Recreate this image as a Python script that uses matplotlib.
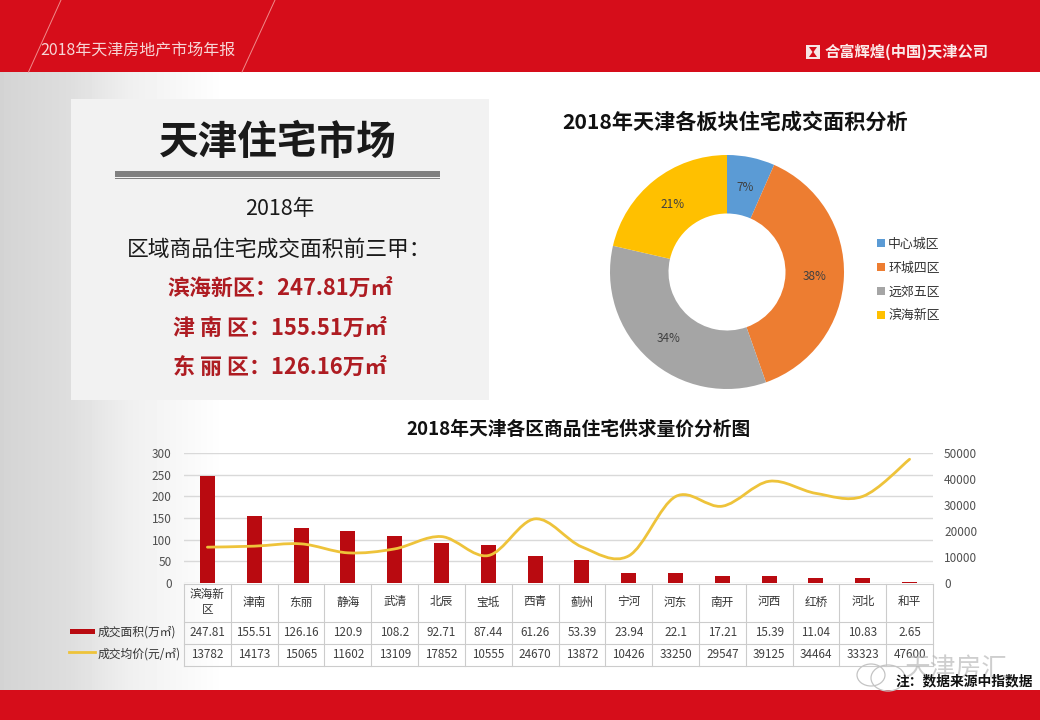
#!/usr/bin/env python3

import numpy as np
import matplotlib
matplotlib.use('Agg')
import matplotlib.pyplot as plt
from matplotlib.patches import Rectangle, Ellipse, PathPatch
from matplotlib.path import Path

plt.rcParams['font.family'] = ['Noto Sans CJK SC', 'DejaVu Sans']

# donut data
blocks = ['中心城区', '环城四区', '远郊五区', '滨海新区']
block_share = [6.6, 38, 34, 21.4]
block_colors = ['#5b9bd5', '#ed7d31', '#a5a5a5', '#ffc000']

# district data
districts = ['滨海新\n区', '津南', '东丽', '静海', '武清', '北辰', '宝坻', '西青',
             '蓟州', '宁河', '河东', '南开', '河西', '红桥', '河北', '和平']
area_labels = ['247.81', '155.51', '126.16', '120.9', '108.2', '92.71', '87.44', '61.26',
               '53.39', '23.94', '22.1', '17.21', '15.39', '11.04', '10.83', '2.65']
price = [13782, 14173, 15065, 11602, 13109, 17852, 10555, 24670,
         13872, 10426, 33250, 29547, 39125, 34464, 33323, 47600]
area = [float(a) for a in area_labels]

# left panel text
top_three = ['滨海新区：247.81万㎡', '津 南 区：155.51万㎡', '东 丽 区：126.16万㎡']

W, H = 1040, 720
RED = '#d60d1a'
BAR_RED = '#b90a10'
LINE_YELLOW = '#eec33a'
GRID = '#d9d9d9'
TABLE_LINE = '#cccccc'


def px_box(x0, y0, x1, y1):
    # pixel box (y down) to figure fractions
    return [x0 / W, 1 - y1 / H, (x1 - x0) / W, (y1 - y0) / H]


fig = plt.figure(figsize=(W / 100, H / 100), dpi=100)

# page background, everything here is in pixels
page = fig.add_axes([0, 0, 1, 1], zorder=0)
page.set_xlim(0, W)
page.set_ylim(H, 0)
page.axis('off')

# grey fade on the left of the slide
grad = np.interp(np.arange(225), [0, 70, 130, 225], [0.83, 0.87, 0.94, 1.0]).reshape(1, -1)
page.imshow(grad, extent=(0, 225, 690, 72), cmap='gray', vmin=0, vmax=1, aspect='auto', zorder=0)
page.set_xlim(0, W)
page.set_ylim(H, 0)

page.add_patch(Rectangle((0, 0), W, 72, color=RED, lw=0, zorder=1))
page.add_patch(Rectangle((0, 690), W, 30, color=RED, lw=0, zorder=1))
page.plot([28.5, 61], [72, 0], color='#f08a8a', lw=0.7, zorder=2)
page.plot([242, 275], [72, 0], color='#f08a8a', lw=0.7, zorder=2)
page.text(40, 51, '2018年天津房地产市场年报', color='#f6d5d5', fontsize=11.5, va='center', zorder=3)

# company mark
page.add_patch(Rectangle((806, 45), 14, 14, color='#f7e6e6', lw=0, zorder=3))
page.add_patch(PathPatch(Path([(809, 47), (817, 47), (813.5, 52), (817, 57), (809, 57), (812.5, 52), (809, 47)]),
                         color=RED, lw=0, zorder=4))
page.text(825, 52, '合富辉煌(中国)天津公司', color='#fbeaea', fontsize=11, fontweight='bold', va='center', zorder=3)

# left panel
page.add_patch(Rectangle((71, 99), 418, 301, color='#f2f2f2', lw=0, zorder=1))
page.text(278, 143, '天津住宅市场', color='#1a1a1a', fontsize=28.5, fontweight='bold', ha='center', va='center', zorder=3)
page.add_patch(Rectangle((115, 171), 325, 5.5, color='#808080', lw=0, zorder=3))
page.add_patch(Rectangle((115, 177.5), 325, 1, color='#808080', lw=0, zorder=3))
page.text(280, 209, '2018年', color='#1a1a1a', fontsize=15.5, ha='center', va='center', zorder=3)
page.text(279, 250, '区域商品住宅成交面积前三甲：', color='#1a1a1a', fontsize=15.7, ha='center', va='center', zorder=3)
for row_y, row_x, line in zip([288, 328, 367], [280, 280, 280], top_three):
    page.text(row_x, row_y, line, color='#ae1c22', fontsize=15.8, fontweight='bold',
              ha='center', va='center', zorder=3)

# donut
page.text(735, 122, '2018年天津各板块住宅成交面积分析', color='#111111', fontsize=15.2, fontweight='bold',
          ha='center', va='center', zorder=3)
ax_pie = fig.add_axes(px_box(610, 155, 844, 389), zorder=2)
wedges, _, pct = ax_pie.pie(block_share, colors=block_colors, startangle=90, counterclock=False, radius=1,
                            autopct='%.0f%%', pctdistance=0.75,
                            wedgeprops=dict(width=0.5),
                            textprops=dict(fontsize=8.5, color='#404040'))
for t in pct:
    t_x, t_y = t.get_position()
    t.set_position((t_x, t_y - 0.012))
ax_pie.set_xlim(-1, 1)
ax_pie.set_ylim(-1, 1)
fig.legend(wedges, blocks, loc='center left', bbox_to_anchor=(877 / W, 1 - 280 / H), frameon=False,
           fontsize=9.3, labelcolor='#333333', handlelength=0.62, handleheight=0.62, handletextpad=0.25,
           labelspacing=0.85, borderpad=0, borderaxespad=0)

# bar + line chart
page.text(579, 429, '2018年天津各区商品住宅供求量价分析图', color='#111111', fontsize=13.5, fontweight='bold',
          ha='center', va='center', zorder=3)
ax = fig.add_axes(px_box(184, 453, 933, 583), zorder=2)
ax.patch.set_alpha(0)
x = np.arange(len(districts))
ax.bar(x, area, width=0.32, color=BAR_RED, zorder=3)
ax.set_xlim(-0.5, 15.5)
ax.set_ylim(0, 300)
ax.set_yticks(range(0, 301, 50))
ax.set_xticks([])
ax.grid(axis='y', color=GRID, lw=1, zorder=0)
ax.set_axisbelow(True)
for s in ax.spines.values():
    s.set_visible(False)
ax.tick_params(axis='y', length=0, labelsize=8.5, labelcolor='#505050', pad=9)

ax2 = ax.twinx()
ax2.set_ylim(0, 50000)
ax2.set_yticks(range(0, 50001, 10000))
ax2.tick_params(axis='y', length=0, labelsize=8.5, labelcolor='#505050', pad=8)
for s in ax2.spines.values():
    s.set_visible(False)

# smoothed line like the excel one, catmull-rom through the points
pts = np.column_stack([x, price]).astype(float)
verts = [tuple(pts[0])]
codes = [Path.MOVETO]
for i in range(len(pts) - 1):
    p0 = pts[max(i - 1, 0)]
    p1 = pts[i]
    p2 = pts[i + 1]
    p3 = pts[min(i + 2, len(pts) - 1)]
    verts += [tuple(p1 + (p2 - p0) / 6), tuple(p2 - (p3 - p1) / 6), tuple(p2)]
    codes += [Path.CURVE4] * 3
ax2.add_patch(PathPatch(Path(verts, codes), fill=False, edgecolor=LINE_YELLOW, lw=2, capstyle='round', zorder=4))

# table under the chart
col_w = (933 - 184) / 16
row_y = [583.5, 621.5, 644, 666]
for y in row_y:
    page.plot([184, 933], [y, y], color=TABLE_LINE, lw=0.8, zorder=2)
for i in range(17):
    page.plot([184 + i * col_w] * 2, [row_y[0], row_y[-1]], color=TABLE_LINE, lw=0.8, zorder=2)
for i in range(16):
    cx = 184 + (i + 0.5) * col_w
    page.text(cx, 602, districts[i], fontsize=8.4, color='#333333', ha='center', va='center', linespacing=1.25, zorder=3)
    page.text(cx, 633, area_labels[i], fontsize=8.4, color='#404040', ha='center', va='center', zorder=3)
    page.text(cx, 655, str(price[i]), fontsize=8.4, color='#404040', ha='center', va='center', zorder=3)

page.add_patch(Rectangle((70, 628.5), 25, 5.5, color=BAR_RED, lw=0, zorder=3))
page.plot([69, 95], [652, 652], color=LINE_YELLOW, lw=2, zorder=3)
page.text(98, 632, '成交面积(万㎡)', fontsize=8.5, color='#333333', va='center', zorder=3)
page.text(98, 654, '成交均价(元/㎡)', fontsize=8.5, color='#333333', va='center', zorder=3)

# watermark and source note
for cx, cy, w, h in [(871, 675, 28, 22), (888, 678, 34, 26)]:
    page.add_patch(Ellipse((cx, cy), w, h, fill=False, edgecolor='#c4c4c4', lw=0.9, zorder=5))
page.text(905, 669, '天津房汇', fontsize=18.5, color='#b5b5b5', alpha=0.65, va='center', zorder=5)
page.text(896, 681, '注：数据来源中指数据', fontsize=9.9, fontweight='bold', color='#111111', va='center', zorder=6)

fig.savefig('out.png', dpi=100)
